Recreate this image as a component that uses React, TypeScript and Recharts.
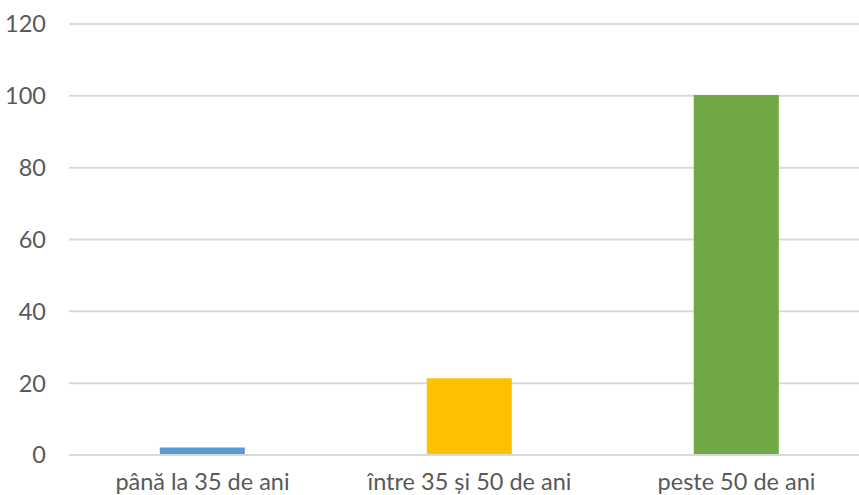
import React from "react";
import { BarChart, Bar, XAxis, YAxis, CartesianGrid, Cell } from "recharts";

const categories = ["până la 35 de ani", "între 35 și 50 de ani", "peste 50 de ani"];
const values = [2.1, 21.4, 100.2];
const barColors = ["#5B9BD5", "#FFC000", "#6FA845"];
const yTicks = [0, 20, 40, 60, 80, 100, 120];

const data = categories.map((c, i) => ({ category: c, value: values[i] }));

const font = "Lato, 'Open Sans', sans-serif";

export default function App() {
  return (
    <div
      style={{
        position: "absolute",
        left: 0,
        top: 0,
        width: 859,
        height: 495,
        overflow: "hidden",
        background: "#fff",
      }}
    >
      <BarChart
        width={880}
        height={495}
        data={data}
        margin={{ top: 24, right: 10, left: 0, bottom: 0 }}
        barCategoryGap="34%"
      >
        <CartesianGrid vertical={false} stroke="#d9d9d9" strokeWidth={2} />
        <XAxis
          dataKey="category"
          height={40}
          axisLine={{ stroke: "#d9d9d9", strokeWidth: 2 }}
          tickLine={false}
          tickSize={0}
          tickMargin={18}
          tick={{ fill: "#595959", fontSize: 23.5, fontFamily: font }}
        />
        <YAxis
          width={69}
          domain={[0, 120]}
          ticks={yTicks}
          axisLine={false}
          tickLine={false}
          tickSize={0}
          tickMargin={23}
          tick={{ fill: "#595959", fontSize: 23.5, fontFamily: font }}
        />
        <Bar dataKey="value" isAnimationActive={false}>
          {data.map((d, i) => (
            <Cell key={d.category} fill={barColors[i]} />
          ))}
        </Bar>
      </BarChart>
    </div>
  );
}
